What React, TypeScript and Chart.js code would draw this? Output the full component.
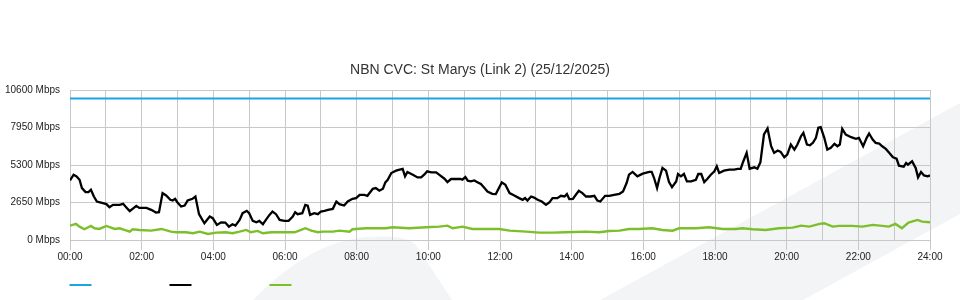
import { useEffect, useRef } from "react";
import { Chart, registerables } from "chart.js";

Chart.register(...registerables);

const TITLE = "NBN CVC: St Marys (Link 2) (25/12/2025)";

// Y axis tick values (Mbps)
const yTickValues = [0, 2650, 5300, 7950, 10600];
// X grid hours (labels shown on even hours)
const gridHours = [0, 1, 2, 3, 4, 5, 6, 7, 8, 9, 10, 11, 12, 13, 14, 15, 16, 17, 18, 19, 20, 21, 22, 23, 24];

// Capacity (blue)
const capacityMinutes = [0, 1440];
const capacityMbps = [10000, 10000];

// Download traffic (black), minutes since midnight
const downloadMinutes = [
  0, 6, 11, 16, 20, 26, 31, 35, 40, 45,
  55, 61, 66, 72, 83, 89, 94, 100, 111, 116,
  128, 136, 144, 149, 155, 161, 168, 172, 176, 180,
  186, 192, 197, 205, 210, 216, 225, 234, 239, 246,
  253, 260, 266, 272, 277, 284, 289, 296, 300, 306,
  312, 317, 323, 328, 334, 339, 345, 351, 359, 366,
  373, 377, 381, 389, 394, 398, 402, 409, 415, 420,
  426, 432, 440, 446, 451, 459, 465, 473, 479, 485,
  493, 498, 507, 512, 518, 524, 528, 532, 538, 546,
  552, 557, 561, 565, 574, 582, 588, 593, 598, 605,
  613, 618, 627, 632, 638, 646, 654, 657, 662, 666,
  671, 677, 683, 688, 694, 699, 707, 713, 723, 729,
  736, 744, 752, 758, 762, 766, 772, 777, 783, 790,
  797, 803, 808, 816, 822, 828, 832, 836, 842, 847,
  852, 858, 864, 872, 878, 883, 888, 896, 903, 911,
  920, 926, 932, 936, 942, 950, 959, 970, 974, 978,
  983, 987, 992, 998, 1003, 1008, 1015, 1018, 1023, 1028,
  1033, 1040, 1048, 1052, 1057, 1062, 1067, 1073, 1079, 1083,
  1087, 1095, 1104, 1112, 1118, 1123, 1127, 1133, 1138, 1146,
  1151, 1156, 1162, 1168, 1174, 1179, 1185, 1190, 1196, 1201,
  1207, 1213, 1218, 1224, 1228, 1234, 1239, 1244, 1249, 1253,
  1257, 1263, 1268, 1274, 1280, 1285, 1289, 1293, 1299, 1308,
  1316, 1321, 1328, 1334, 1338, 1344, 1349, 1355, 1360, 1366,
  1372, 1378, 1384, 1388, 1396, 1400, 1403, 1410, 1413, 1416,
  1420, 1425, 1430, 1436, 1440,
];
const downloadMbps = [
  4210, 4615, 4495, 4260, 3670, 3385, 3385, 3550, 3075, 2720,
  2605, 2535, 2320, 2485, 2485, 2555, 2320, 2040, 2415, 2270,
  2270, 2130, 1940, 1965, 3315, 3145, 2840, 2790, 2910, 2650,
  2365, 2435, 2790, 2910, 3075, 1825, 1185, 1655, 1540, 1065,
  1250, 1230, 945, 1115, 1015, 1420, 1895, 2060, 1895, 1350,
  1255, 1350, 1115, 1420, 1775, 2010, 1825, 1420, 1350, 1350,
  1655, 1965, 1825, 1895, 2485, 2435, 1775, 1895, 1825, 2010,
  2060, 2130, 2200, 2720, 2535, 2435, 2720, 2910, 2960, 3195,
  3195, 3125, 3620, 3670, 3480, 3620, 4070, 4260, 4735, 4900,
  4970, 5020, 4495, 4810, 4615, 4425, 4425, 4615, 4850, 4780,
  4780, 4615, 4330, 4095, 4310, 4310, 4310, 4260, 4450, 4190,
  4140, 4210, 4070, 3955, 3670, 3430, 3265, 3245, 4070, 3905,
  3315, 3145, 2960, 2840, 2960, 2790, 3075, 3000, 2840, 2720,
  2485, 2675, 2960, 2960, 3125, 3075, 3245, 2890, 2910, 3195,
  3480, 3315, 3075, 3075, 3125, 2790, 2720, 3125, 3125, 3195,
  3265, 3430, 4025, 4615, 4810, 4495, 4685, 4810, 4810, 4380,
  3670, 4380, 5090, 4900, 4095, 3740, 4140, 4665, 4495, 4665,
  4140, 4140, 4260, 4665, 4665, 4095, 4310, 4615, 4850, 5205,
  4735, 4900, 4970, 4970, 5020, 5020, 5515, 6155, 5040, 5135,
  5040, 5490, 7455, 7880, 6625, 6155, 6320, 6225, 5845, 6035,
  6745, 6390, 6745, 7335, 7575, 6745, 6695, 6865, 7220, 7930,
  7975, 7220, 6390, 6510, 6795, 6625, 6745, 7860, 7455, 7265,
  7150, 7220, 6625, 7220, 7525, 7100, 6865, 6815, 6625, 6440,
  6155, 5845, 5750, 5255, 5185, 5445, 5325, 5560, 5325, 5090,
  4425, 4810, 4565, 4495, 4565,
];

// Upload traffic (green), minutes since midnight
const uploadMinutes = [
  0, 10, 16, 24, 35, 41, 49, 61, 75, 83,
  91, 100, 105, 116, 136, 153, 169, 178, 194, 206,
  217, 231, 245, 261, 272, 284, 295, 303, 314, 323,
  337, 356, 376, 387, 394, 404, 415, 423, 440, 451,
  468, 473, 496, 529, 540, 568, 596, 618, 632, 641,
  657, 674, 697, 719, 736, 764, 786, 808, 830, 864,
  886, 903, 920, 936, 953, 975, 992, 1009, 1020, 1048,
  1070, 1093, 1115, 1126, 1143, 1165, 1187, 1210, 1224, 1238,
  1255, 1263, 1277, 1288, 1310, 1327, 1344, 1360, 1371, 1382,
  1393, 1404, 1419, 1427, 1440,
];
const uploadMbps = [
  1015, 1136, 945, 760, 995, 830, 780, 995, 780, 830,
  710, 590, 760, 710, 660, 780, 590, 545, 545, 475,
  590, 425, 520, 545, 475, 590, 710, 545, 640, 475,
  545, 545, 545, 710, 830, 660, 545, 590, 590, 660,
  590, 760, 830, 830, 900, 830, 900, 945, 1015, 830,
  945, 780, 780, 780, 660, 590, 520, 520, 545, 590,
  545, 640, 660, 780, 780, 830, 710, 660, 830, 830,
  900, 780, 780, 830, 760, 710, 830, 875, 1015, 945,
  1136, 1185, 945, 995, 995, 945, 1065, 995, 945, 1136,
  830, 1230, 1420, 1300, 1255,
];

const FONT = "'Liberation Sans', Arial, Helvetica, sans-serif";
const GRID = "#c8c8c8";

const toPoints = (mins: number[], vals: number[]) =>
  mins.map((m, i) => ({ x: m / 60, y: vals[i] }));

const watermarkPlugin = {
  id: "watermark",
  beforeDraw(chart: any) {
    const ctx = chart.ctx;
    ctx.save();
    ctx.fillStyle = "#f3f4f6";
    ctx.beginPath();
    ctx.moveTo(600, 300);
    ctx.lineTo(960, 103);
    ctx.lineTo(960, 214);
    ctx.lineTo(803, 300);
    ctx.closePath();
    ctx.fill();
    ctx.beginPath();
    ctx.moveTo(253, 300);
    ctx.bezierCurveTo(285, 268, 322, 240, 368, 237);
    ctx.bezierCurveTo(398, 235, 412, 238, 418, 248);
    ctx.lineTo(452, 300);
    ctx.closePath();
    ctx.fill();
    ctx.restore();
  },
};

// centre the title on the whole canvas rather than the padded layout box
const centerTitlePlugin = {
  id: "centerTitle",
  afterLayout(chart: any) {
    const t = chart.titleBlock;
    if (t) {
      t.left = 0;
      t.right = chart.width;
      t.width = chart.width;
    }
  },
};

const legendLinesPlugin = {
  id: "legendLines",
  afterDraw(chart: any) {
    const ctx = chart.ctx;
    ctx.save();
    chart.data.datasets.forEach((ds: any, i: number) => {
      ctx.strokeStyle = ds.borderColor;
      ctx.lineWidth = 2;
      ctx.beginPath();
      ctx.moveTo(69.5 + 100 * i, 285);
      ctx.lineTo(91.5 + 100 * i, 285);
      ctx.stroke();
    });
    ctx.restore();
  },
};

export default function App() {
  const canvasRef = useRef<HTMLCanvasElement | null>(null);

  useEffect(() => {
    if (!canvasRef.current) return;
    Chart.defaults.font.family = FONT;
    const chart = new Chart(canvasRef.current, {
      type: "line",
      data: {
        datasets: [
          {
            label: "Capacity",
            data: toPoints(capacityMinutes, capacityMbps),
            borderColor: "#1ea3e4",
            borderWidth: 2,
            pointRadius: 0,
            tension: 0,
          },
          {
            label: "Download",
            data: toPoints(downloadMinutes, downloadMbps),
            borderColor: "#000000",
            borderWidth: 2.3,
            pointRadius: 0,
            tension: 0,
          },
          {
            label: "Upload",
            data: toPoints(uploadMinutes, uploadMbps),
            borderColor: "#7cbf2a",
            borderWidth: 2.4,
            pointRadius: 0,
            tension: 0,
          },
        ],
      },
      options: {
        animation: false,
        responsive: true,
        maintainAspectRatio: false,
        layout: { padding: { top: 0, right: 30, bottom: 35, left: 0 } },
        plugins: {
          legend: { display: false },
          tooltip: { enabled: false },
          title: {
            display: true,
            text: TITLE,
            color: "#333333",
            font: { family: FONT, size: 14, weight: "normal" },
            padding: { top: 61.6, bottom: 11.6 },
          },
        },
        scales: {
          x: {
            type: "linear",
            min: 0,
            max: 24,
            afterBuildTicks: (s: any) => {
              s.ticks = gridHours.map((v) => ({ value: v }));
            },
            afterFit: (s: any) => {
              s.height = 25;
            },
            ticks: {
              autoSkip: false,
              maxRotation: 0,
              padding: 1,
              color: "#222222",
              font: { family: FONT, size: 10 },
              callback: (v: any) =>
                Number(v) % 2 === 0 ? `${String(v).padStart(2, "0")}:00` : "",
            },
            grid: {
              color: GRID,
              lineWidth: 1,
              tickLength: 10,
              tickColor: (c: any) =>
                c.tick && c.tick.value % 2 === 0 ? GRID : "rgba(0,0,0,0)",
            },
            border: { color: GRID },
          },
          y: {
            min: 0,
            max: 10600,
            afterBuildTicks: (s: any) => {
              s.ticks = yTickValues.map((v) => ({ value: v }));
            },
            afterFit: (s: any) => {
              s.width = 70;
            },
            ticks: {
              padding: 10,
              color: "#222222",
              font: { family: FONT, size: 10 },
              callback: (v: any) => `${v} Mbps`,
            },
            grid: { color: GRID, lineWidth: 1, drawTicks: false },
            border: { color: GRID },
          },
        },
      },
      plugins: [watermarkPlugin, centerTitlePlugin, legendLinesPlugin],
    });
    return () => chart.destroy();
  }, []);

  return (
    <div
      style={{
        position: "fixed",
        left: 0,
        top: 0,
        width: 960,
        height: 300,
        background: "#ffffff",
      }}
    >
      <canvas ref={canvasRef} />
    </div>
  );
}
